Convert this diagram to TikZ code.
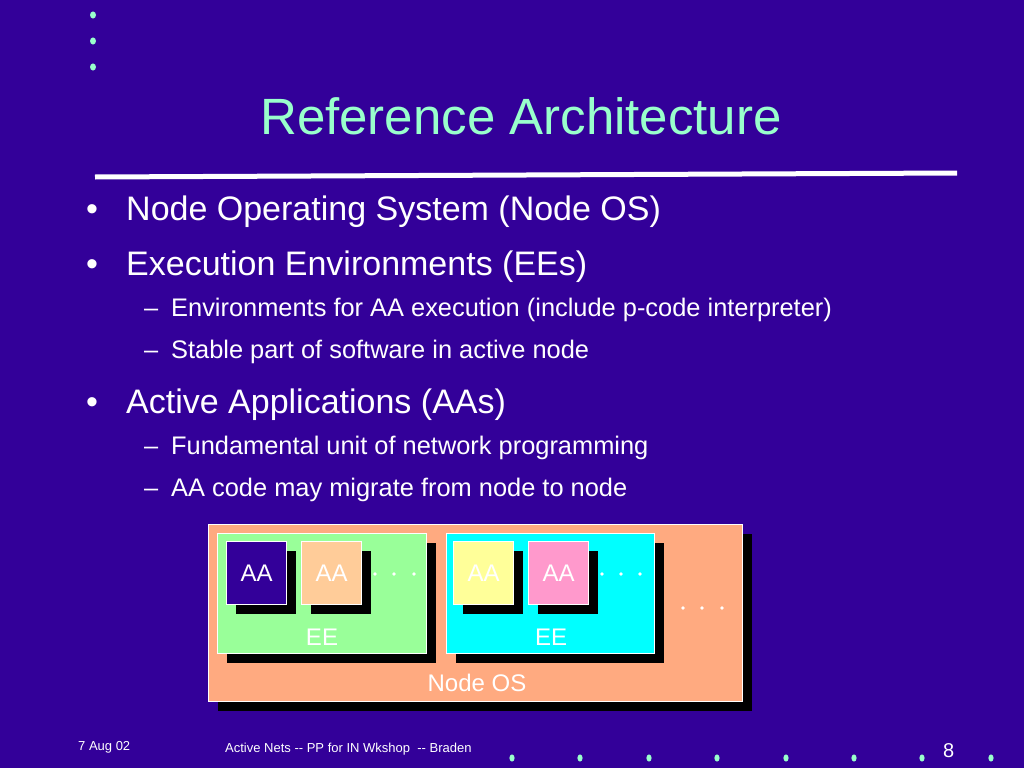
\documentclass[tikz,border=0pt]{standalone}
\usepackage{fontspec}
\setmainfont{Liberation Sans}
\usetikzlibrary{shadows}
\definecolor{bg}{RGB}{51,0,153}
\definecolor{mint}{RGB}{153,255,204}
\definecolor{osfill}{RGB}{255,170,128}
\definecolor{eegreen}{RGB}{153,255,153}
\definecolor{eecyan}{RGB}{0,255,255}
\definecolor{aapeach}{RGB}{255,204,153}
\definecolor{aayellow}{RGB}{255,255,153}
\definecolor{aapink}{RGB}{255,153,204}
\tikzset{
  box/.style={draw=white, line width=1.2pt, inner sep=0pt, anchor=north west, text=white,
    font=\fontsize{24}{28}\selectfont,
    drop shadow={shadow xshift=9pt, shadow yshift=-9pt, opacity=1, fill=black}},
  aabox/.style={box, minimum width=60pt, minimum height=63pt},
  eebox/.style={box, minimum width=208pt, minimum height=120pt},
  lbl/.style={text=white, inner sep=0pt, anchor=base, font=\fontsize{24}{28}\selectfont},
  lvlone/.style={text=white, inner sep=0pt, anchor=base west, font=\fontsize{34}{40}\selectfont},
  lvltwo/.style={text=white, inner sep=0pt, anchor=base west, font=\fontsize{25.4}{30}\selectfont},
  foot/.style={text=white, inner sep=0pt, anchor=base west, font=\fontsize{13}{15}\selectfont},
  dotmark/.style={fill=white},
  deco/.style={fill=mint},
}
\begin{document}
\begin{tikzpicture}[x=1pt,y=-1pt]
\fill[bg] (0,0) rectangle (1024,768);
\useasboundingbox (0,0) rectangle (1024,768);

% decorative dots
\foreach \yy in {15,41,67} \fill[deco] (93,\yy) ellipse [x radius=3, y radius=3.6];
\foreach \xx in {512,580,649,717,786,854,922,991} \fill[deco] (\xx,758) ellipse [x radius=2.6, y radius=3.6];

% title
\node[text=mint, inner sep=0pt, anchor=base, font=\fontsize{51}{60}\selectfont] (title) at (521,134) {Reference Architecture};
\draw[white, line width=5pt] (95,177) -- (957,173);

% bullets
\node[lvlone] (b1m) at (86,220) {\textbullet};
\node[lvlone] (b1) at (126,220) {Node Operating System (Node OS)};
\node[lvlone] (b2m) at (86,275) {\textbullet};
\node[lvlone] (b2) at (126,275) {Execution Environments (EEs)};
\node[lvltwo] (s1m) at (144,316) {\textendash};
\node[lvltwo] (s1) at (171,316) {Environments for AA execution (include p-code interpreter)};
\node[lvltwo] (s2m) at (144,358) {\textendash};
\node[lvltwo] (s2) at (171,358) {Stable part of software in active node};
\node[lvlone] (b3m) at (86,413) {\textbullet};
\node[lvlone] (b3) at (126,413) {Active Applications (AAs)};
\node[lvltwo] (s3m) at (144,454) {\textendash};
\node[lvltwo] (s3) at (171,454) {Fundamental unit of network programming};
\node[lvltwo] (s4m) at (144,496) {\textendash};
\node[lvltwo] (s4) at (171,496) {AA code may migrate from node to node};

% diagram
\node[box, fill=osfill, minimum width=534pt, minimum height=177pt] (os) at (208,524) {};
\node[lbl] (oslbl) at (477,691) {Node OS};
\node[eebox, fill=eegreen, minimum width=209pt] (ee1) at (217,533) {};
\node[lbl] (ee1lbl) at (322,645) {EE};
\node[eebox, fill=eecyan] (ee2) at (446,533) {};
\node[lbl] (ee2lbl) at (551,645) {EE};
\node[aabox, fill=bg] (aa1) at (226,541) {AA};
\node[aabox, fill=aapeach] (aa2) at (301,541) {AA};
\node[aabox, fill=aayellow] (aa3) at (453,541) {AA};
\node[aabox, fill=aapink] (aa4) at (528,541) {AA};
\foreach \xx in {375,394,414} \fill[dotmark] (\xx,574) circle (1.9);
\foreach \xx in {602,621,640} \fill[dotmark] (\xx,574) circle (1.9);
\foreach \xx in {683,702,722} \fill[dotmark] (\xx,608) circle (1.9);

% footer
\node[foot] (date) at (78,750) {7 Aug 02};
\node[foot] (ftitle) at (225,752) {Active Nets -\kern0pt- PP for IN Wkshop \ -\kern0pt- Braden};
\node[text=white, inner sep=0pt, anchor=base west, font=\fontsize{20}{24}\selectfont] (page) at (943,757) {8};
\end{tikzpicture}
\end{document}
